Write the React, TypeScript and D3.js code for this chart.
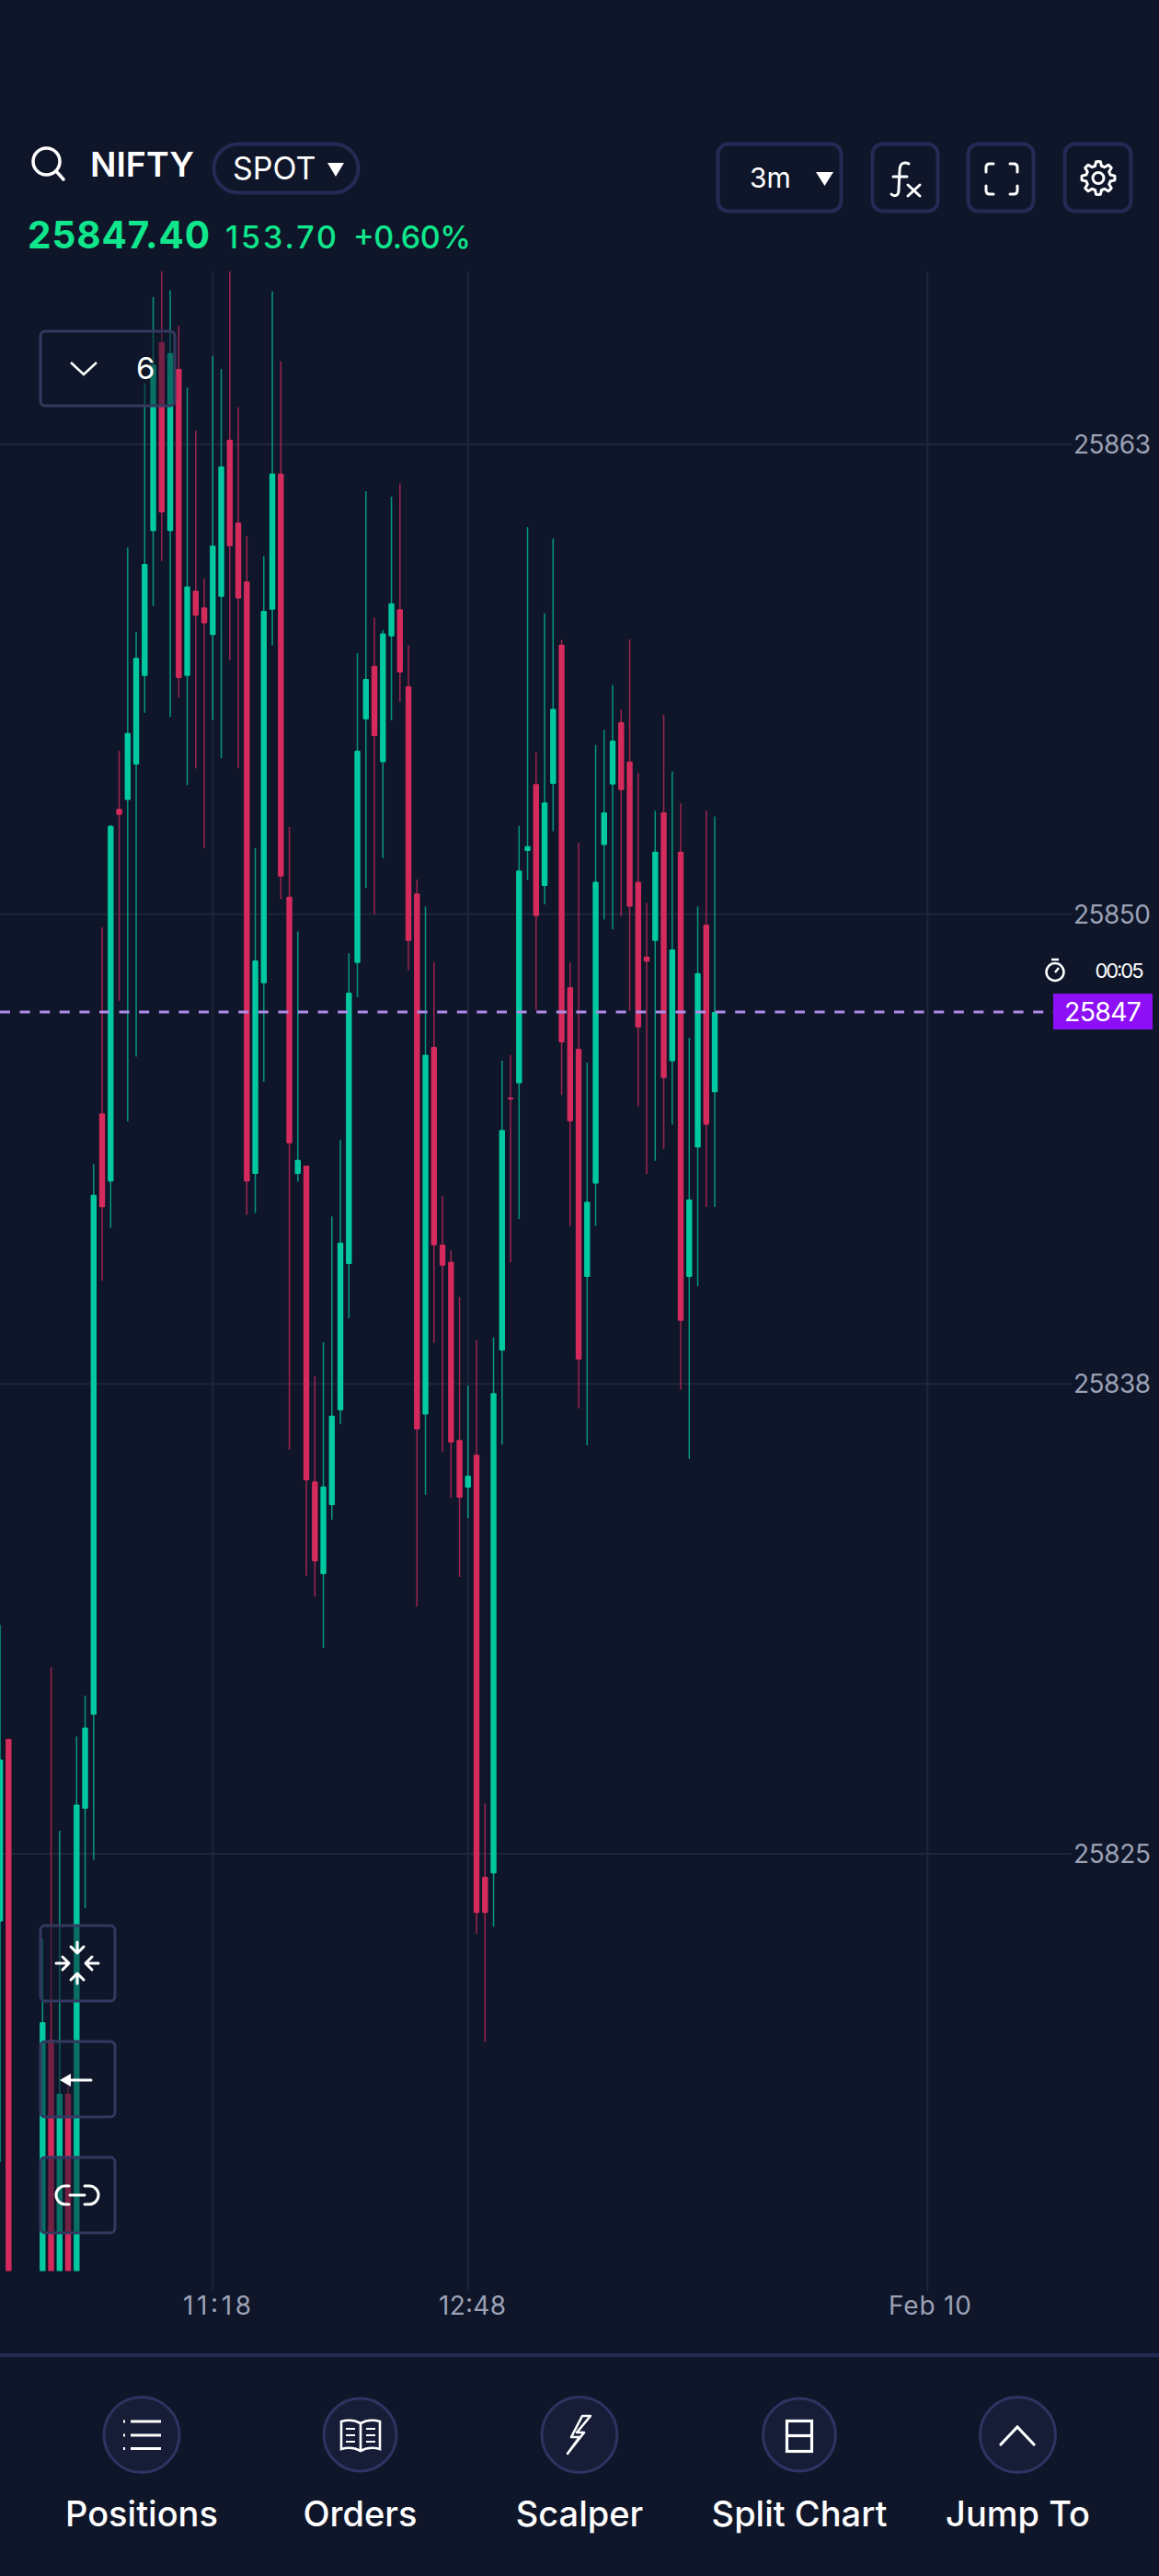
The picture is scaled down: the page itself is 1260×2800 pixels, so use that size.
import React from "react";
import * as d3 from "d3";

const slots = [-25, -24, ...d3.range(-20, 60)];
const highs = [25831.09,25828.06,25822.75,25829.96,25825.61,25818.85,25828.12,25829.21,25843.36,25849.65,25852.37,25854.35,25859.76,25857.51,25864.12,25866.42,25867.47,25866.60,25865.66,25864.01,25862.87,25858.93,
25864.85,25864.50,25867.47,25863.49,25860.05,25851.76,25859.52,25866.57,25864.71,25852.32,25849.54,25843.31,25837.70,25838.61,25841.96,25844.00,25848.96,25856.95,25861.25,25857.89,25857.56,25861.11,25861.46,25857.15,25850.92,25850.20,25848.72,25842.50,25841.06,25839.81,25837.46,25838.66,25826.34,25838.74,25846.10,25846.25,25852.35,25860.30,25854.30,25858.00,25860.00,25857.30,25848.71,25851.90,25846.05,25854.50,25854.90,25856.10,25855.44,25857.31,25853.76,25850.30,25852.75,25855.31,25853.80,25852.95,25846.71,25850.20,25852.75,25852.60];
const opens = [25823.20,25828.06,25812.64,25820.05,25812.64,25818.62,25812.64,25826.20,25828.70,25844.70,25842.89,25852.80,25853.04,25853.98,25856.34,25860.19,25865.22,25860.19,25864.51,25856.34,25858.61,25858.16,
25857.43,25858.44,25862.62,25860.42,25858.85,25843.09,25848.16,25858.10,25861.72,25850.46,25843.09,25843.31,25834.91,25832.44,25834.28,25836.80,25840.69,25848.70,25855.18,25856.61,25854.04,25857.39,25858.11,25856.06,25850.55,25836.69,25846.47,25841.21,25840.75,25836.01,25834.74,25835.62,25824.39,25824.48,25838.39,25845.12,25845.50,25851.68,25853.46,25850.75,25853.47,25857.17,25848.06,25846.42,25840.35,25842.83,25851.84,25853.45,25855.11,25854.06,25850.86,25848.87,25849.29,25852.71,25846.09,25851.66,25840.35,25843.79,25849.72,25845.26];
const closes = [25827.51,25812.64,25820.52,25812.64,25818.62,25812.64,25826.31,25828.36,25842.53,25842.20,25852.35,25852.64,25854.82,25856.82,25859.32,25864.62,25860.69,25864.93,25856.28,25858.72,25857.94,25857.74,
25859.81,25861.91,25859.79,25858.40,25842.89,25848.77,25858.07,25861.72,25851.00,25843.90,25843.46,25834.94,25832.78,25834.77,25836.66,25841.26,25847.91,25854.35,25856.26,25854.74,25857.47,25858.27,25856.43,25849.29,25836.29,25846.26,25841.19,25840.65,25835.94,25834.47,25835.06,25823.43,25823.43,25837.26,25844.26,25845.07,25851.16,25851.81,25849.95,25852.97,25855.46,25846.59,25844.49,25838.15,25842.35,25850.86,25852.71,25854.62,25853.30,25850.20,25846.99,25848.74,25851.66,25845.64,25849.06,25839.18,25842.41,25848.43,25844.40,25847.40];
const lows = [25816.80,25812.15,25812.15,25812.15,25812.15,25812.15,25812.15,25823.55,25824.84,25840.25,25841.65,25847.70,25844.49,25846.21,25855.36,25858.20,25859.40,25855.25,25855.76,25853.44,25853.88,25851.76,
25855.16,25854.15,25856.76,25853.89,25842.00,25842.05,25845.54,25857.15,25850.40,25835.75,25842.89,25832.39,25831.84,25830.48,25833.89,25836.44,25839.25,25847.79,25850.70,25850.00,25851.49,25855.16,25855.65,25848.51,25831.58,25834.55,25838.59,25835.70,25834.47,25832.37,25833.93,25822.87,25820.00,25823.06,25835.89,25840.74,25841.89,25850.91,25847.45,25850.26,25852.21,25845.19,25841.70,25836.85,25835.87,25841.70,25849.86,25849.60,25849.95,25847.42,25844.89,25843.09,25843.44,25843.75,25844.40,25837.34,25835.51,25840.10,25842.21,25842.21];

const priceTicks = [25862.5, 25850, 25837.5, 25825];
const priceTickLabels = ["25863", "25850", "25838", "25825"];
const timeTicks = [0, 30, 84];
const timeTickLabels = ["11:18", "12:48", "Feb 10"];
const timeLabelX = [199, 477, 966];
const timeLabelW = [74, 73, 90];
const lastPrice = 25847.4;
const navLabels = ["Positions", "Orders", "Scalper", "Split Chart", "Jump To"];

const BG = "#0f162a";
const GRID = "#1f2639";
const BORDER = "#232b55";
const BOX = "#33395f";
const UP = "#00c9a1";
const DOWN = "#d52a5c";
const FONT = "Inter, sans-serif";

const x = d3.scaleLinear().domain([0, 30]).range([231.3, 508.8]);
const y = d3.scaleLinear().domain([25825, 25862.5]).range([2015, 483]);

const gearPts: [number, number][] = d3.range(0, 48).map((i) => {
  const a = (i / 48) * 2 * Math.PI;
  const p = i % 6;
  const r = p === 0 || p === 1 || p === 5 ? 18 : 13.5;
  return [a, r];
});
const gearPath = d3.lineRadial().curve(d3.curveLinearClosed)(gearPts) as string;

function CandleMarks() {
  return (
    <g clipPath="url(#plot)">
      {slots.map((s, i) => {
        const up = closes[i] >= opens[i];
        const color = up ? UP : DOWN;
        const top = y(Math.max(opens[i], closes[i]));
        const bot = y(Math.min(opens[i], closes[i]));
        return (
          <g key={s}>
            <line x1={x(s)} x2={x(s)} y1={y(highs[i])} y2={y(lows[i])} stroke={color} strokeWidth={1.5} strokeOpacity={0.72} />
            <rect x={x(s) - 3.2} width={6.4} y={top} height={Math.max(bot - top, 2)} rx={1} fill={color} />
          </g>
        );
      })}
    </g>
  );
}

function Overlay({ x0, y0, w, h }: { x0: number; y0: number; w: number; h: number }) {
  return <rect x={x0} y={y0} width={w} height={h} rx={5} fill={BG} fillOpacity={0.5} stroke={BOX} strokeWidth={3} />;
}

function NavIcon({ cx, cy, r }: { cx: number; cy: number; r: number }) {
  return <circle cx={cx} cy={cy} r={r} fill="#171d37" stroke="#2e3461" strokeWidth={3} />;
}

export default function App() {
  const lineY = y(lastPrice);
  const navX = [154, 391.5, 630, 869, 1106.5];
  return (
    <svg width={1260} height={2800} viewBox="0 0 1260 2800" style={{ position: "absolute", left: 0, top: 0, display: "block", background: BG }} fontFamily={FONT}>
      <defs>
        <clipPath id="plot"><rect x={0} y={295} width={1260} height={2173.6} /></clipPath>
      </defs>
      <rect width={1260} height={2800} fill={BG} />

      {/* header */}
      <g fill="none" stroke="#fff" strokeWidth={3.5} strokeLinecap="round">
        <circle cx={50.5} cy={175.5} r={14.5} />
        <line x1={61} y1={186} x2={69} y2={195} />
      </g>
      <text x={98} y={192} fill="#fff" fontSize={37.5} fontWeight={600}>NIFTY</text>
      <rect x={232.5} y={156.5} width={157} height={53} rx={26.5} fill="none" stroke={BORDER} strokeWidth={4} />
      <text x={253} y={195} fill="#fff" fontSize={34} fontWeight={400}>SPOT</text>
      <path d="M356 177 H374 L365 192 Z" fill="#fff" />
      <rect x={780.5} y={156.5} width={134} height={73} rx={11} fill="none" stroke={BORDER} strokeWidth={4} />
      <text x={815} y={204} fill="#fff" fontSize={30}>3m</text>
      <path d="M887 187 H906 L896.5 202 Z" fill="#fff" />
      <rect x={948.5} y={156.5} width={71} height={73} rx={11} fill="none" stroke={BORDER} strokeWidth={4} />
      <rect x={1052.5} y={156.5} width={71} height={73} rx={11} fill="none" stroke={BORDER} strokeWidth={4} />
      <rect x={1157.5} y={156.5} width={72} height={73} rx={11} fill="none" stroke={BORDER} strokeWidth={4} />
      <g fill="none" stroke="#fff" strokeWidth={3} strokeLinecap="round">
        <path d="M988 178 C981 175 978 179 978 186 L977 207 C977 213 972 214 969 211 M971 192 H986" />
        <path d="M987 201 L1000 213 M1000 201 L987 213" />
        <path d="M1072 187 V182 Q1072 178 1076 178 H1080 M1098 178 H1102 Q1106 178 1106 182 V187 M1106 202 V207 Q1106 211 1102 211 H1098 M1080 211 H1076 Q1072 211 1072 207 V202" />
        <g transform="translate(1194 193.5)"><path d={gearPath} strokeLinejoin="round" /><circle r={6} /></g>
      </g>
      <text x={30} y={270} fill="#10e68c" fontSize={40.5} fontWeight={700} textLength={198}>25847.40</text>
      <text x={245} y={270} fill="#10e68c" fontSize={34} fontWeight={500} textLength={121}>153.70</text>
      <text x={384} y={270} fill="#10e68c" fontSize={34} fontWeight={500} textLength={128}>+0.60%</text>

      {/* grid */}
      {priceTicks.map((t) => (
        <line key={t} x1={0} x2={1165} y1={y(t)} y2={y(t)} stroke={GRID} strokeWidth={2} />
      ))}
      {timeTicks.map((t) => (
        <line key={t} x1={x(t)} x2={x(t)} y1={295} y2={2490} stroke={GRID} strokeWidth={2} />
      ))}

      <CandleMarks />

      {/* last price */}
      <line x1={0} x2={1145} y1={lineY} y2={lineY} stroke="#ae8be8" strokeWidth={3} strokeDasharray="11 10.6" />
      <rect x={1145} y={1080} width={108} height={39} fill="#8c0ff5" />
      <text x={1157} y={1110} fill="#fff" fontSize={28.5} textLength={84}>25847</text>
      <g fill="none" stroke="#fff" strokeWidth={2.5}>
        <circle cx={1147} cy={1056.5} r={9.5} />
        <path d="M1143 1043 H1151 M1147 1057 L1151 1052" />
      </g>
      <text x={1190.5} y={1063} fill="#fff" fontSize={22} textLength={53}>00:05</text>

      {priceTicks.map((t, i) => (
        <text key={t} x={1167} y={y(t) + 10} fill="#9ba1b5" fontSize={28} textLength={84}>{priceTickLabels[i]}</text>
      ))}
      {timeTicks.map((t, i) => (
        <text key={t} x={timeLabelX[i]} y={2516} fill="#9ba1b5" fontSize={28} textLength={timeLabelW[i]}>{timeTickLabels[i]}</text>
      ))}

      {/* overlays */}
      <Overlay x0={44} y0={360} w={146} h={81} />
      <path d="M77 394 L91 407 L105 394" fill="none" stroke="#fff" strokeWidth={2.5} />
      <text x={148} y={412} fill="#fff" fontSize={33}>6</text>
      <Overlay x0={44} y0={2093} w={81} h={82} />
      <Overlay x0={44} y0={2219} w={81} h={82} />
      <Overlay x0={44} y0={2345} w={81} h={82} />
      <g fill="none" stroke="#fff" strokeWidth={3} strokeLinecap="round" strokeLinejoin="round">
        <path d="M84 2111 V2122 M77 2116 L84 2123 L91 2116" />
        <path d="M84 2156 V2145 M77 2152 L84 2145 L91 2152" />
        <path d="M61 2134 H74 M68 2127 L75 2134 L68 2141" />
        <path d="M107 2134 H94 M100 2127 L93 2134 L100 2141" />
        <path d="M99 2261 H70" />
        <path d="M75 2376 H71 A10 10 0 0 0 71 2396 H75 M92 2376 H97 A10 10 0 0 1 97 2396 H92 M76 2386 H92" />
      </g>
      <path d="M65 2261 L77 2254 V2268 Z" fill="#fff" />

      {/* bottom navigation */}
      <rect x={0} y={2558} width={1260} height={4} fill="#232b55" />
      {navX.map((cx, i) => (
        <NavIcon key={i} cx={cx} cy={2646.5} r={i === 1 || i === 3 ? 39.5 : 41} />
      ))}
      <g fill="none" stroke="#fff" strokeWidth={3.2}>
        <path d="M142 2632 H175 M142 2647 H175 M142 2661.5 H175 M134 2632 H136 M134 2647 H136 M134 2661.5 H136" />
        <path d="M392 2634 C385 2630 378 2630 371 2632 V2662 C378 2660 385 2660 392 2664 C399 2660 406 2660 413 2662 V2632 C406 2630 399 2630 392 2634 V2664" strokeWidth={2.6} />
        <path d="M376 2640 H386 M376 2647 H386 M376 2654 H386 M398 2640 H408 M398 2647 H408 M398 2654 H408" strokeWidth={2} />
        <path d="M633 2626 L621 2649 H630 L617 2667 L635 2644 H627 L642 2626 Z" strokeWidth={2.6} strokeLinejoin="round" />
        <rect x={855.5} y={2631.5} width={27} height={33} />
        <path d="M855.5 2647.5 H882.5" />
        <path d="M1088 2657 L1106 2638 L1124 2657" strokeLinecap="round" />
      </g>
      {navLabels.map((t, i) => (
        <text key={t} x={navX[i]} y={2746} textAnchor="middle" fill="#fff" fontSize={38} fontWeight={500}>{t}</text>
      ))}
    </svg>
  );
}
